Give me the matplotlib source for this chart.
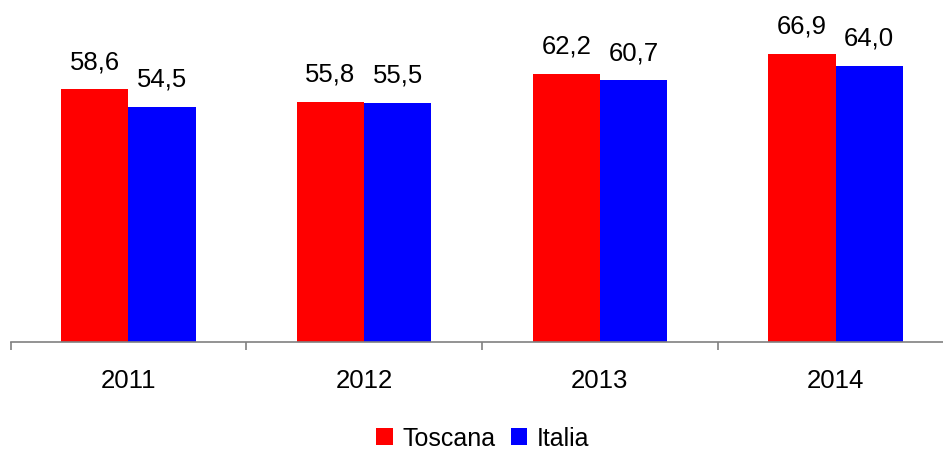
import numpy as np
import matplotlib
matplotlib.use("Agg")
import matplotlib.pyplot as plt

plt.rcParams['font.family'] = ['Liberation Sans', 'DejaVu Sans']

# Data
years = ['2011', '2012', '2013', '2014']
toscana = [58.6, 55.8, 62.2, 66.9]
italia = [54.5, 55.5, 60.7, 64.0]
series_names = ['Toscana', 'Italia']
colors = ['#ff0000', '#0000ff']

fig = plt.figure(figsize=(9.43, 4.53), dpi=100)
ax = fig.add_axes([10.5 / 943, 111.5 / 453, 1.0, 341.5 / 453])

x = np.arange(len(years))
w = 0.285
b1 = ax.bar(x - w / 2, toscana, w, color=colors[0], label=series_names[0])
b2 = ax.bar(x + w / 2, italia, w, color=colors[1], label=series_names[1])

# value labels, decimal comma
for bars, vals in ((b1, toscana), (b2, italia)):
    for rect, v in zip(bars, vals):
        ax.annotate(f"{v:.1f}".replace('.', ','),
                    (rect.get_x() + rect.get_width() / 2, v),
                    xytext=(0, 11), textcoords='offset points',
                    ha='center', va='bottom', fontsize=18.5)

ax.set_xlim(-0.5, len(years) - 0.5)
ax.set_ylim(0, 79.4)

for s in ['top', 'right', 'left']:
    ax.spines[s].set_visible(False)
ax.spines['bottom'].set_color('#808080')
ax.spines['bottom'].set_linewidth(1.2)
ax.set_yticks([])

ax.set_xticks(x)
ax.set_xticklabels(years, fontsize=18.5)
ax.tick_params(axis='x', which='major', length=0, pad=20)
ax.set_xticks(np.arange(len(years) + 1) - 0.5, minor=True)
ax.tick_params(axis='x', which='minor', length=6, width=1.2, color='#808080',
               direction='out')

fig.legend(handles=[b1, b2], labels=series_names, loc='center',
           bbox_to_anchor=(0.512, 0.032), ncol=2, frameon=False,
           fontsize=18, handlelength=0.65, handleheight=0.65,
           handletextpad=0.4, columnspacing=0.6, borderpad=0)

fig.savefig('out.png', dpi=100)
